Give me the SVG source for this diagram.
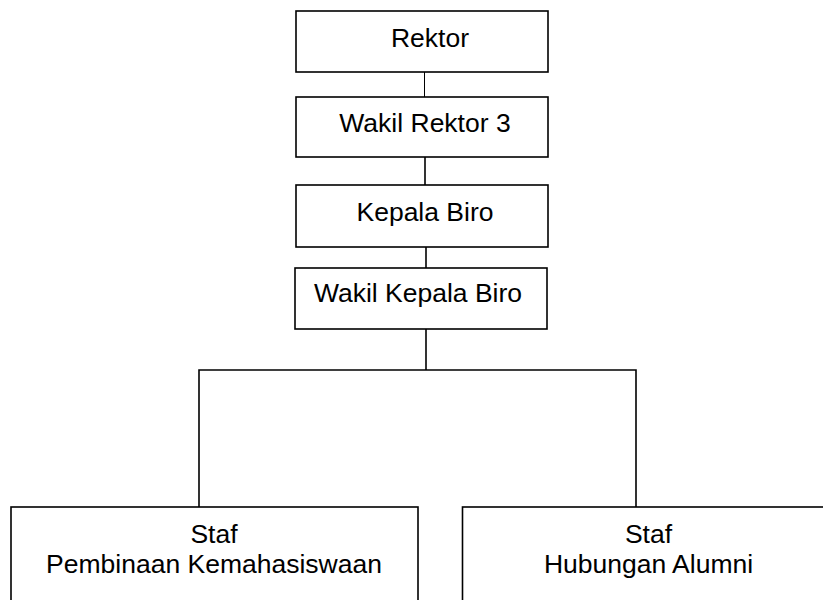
<svg xmlns="http://www.w3.org/2000/svg" width="823" height="600" viewBox="0 0 823 600">
<style>
.box{fill:#fff;stroke:#000;stroke-width:1.6}
.t{font-family:"Liberation Sans",Arial,sans-serif;font-size:26.5px;fill:#000;text-anchor:middle}
.c{stroke:#000;stroke-width:1.6;fill:none}
.thin{stroke:#000;stroke-width:1;fill:none}
</style>
<rect width="823" height="600" fill="#fff"/>
<g id="connectors">
<line class="thin" x1="424.5" y1="70" x2="424.5" y2="97"/>
<line class="c" x1="425" y1="157" x2="425" y2="185"/>
<line class="c" x1="426" y1="247" x2="426" y2="268"/>
<polyline class="c" points="426,329 426,370"/>
<polyline class="c" points="199,507 199,370 636,370 636,507"/>
</g>
<g id="rektor">
<rect class="box" x="296" y="11" width="252" height="61"/>
<text class="t" x="430" y="47">Rektor</text>
</g>
<g id="wakil-rektor-3">
<rect class="box" x="296" y="97" width="252" height="60"/>
<text class="t" x="425" y="132">Wakil Rektor 3</text>
</g>
<g id="kepala-biro">
<rect class="box" x="296" y="185" width="252" height="62"/>
<text class="t" x="425" y="221">Kepala Biro</text>
</g>
<g id="wakil-kepala-biro">
<rect class="box" x="295" y="268" width="252" height="61"/>
<text class="t" x="418" y="302">Wakil Kepala Biro</text>
</g>
<g id="staf-pembinaan">
<rect class="box" x="11" y="507" width="407" height="110"/>
<text class="t" x="214" y="543">Staf</text>
<text class="t" x="214" y="573">Pembinaan Kemahasiswaan</text>
</g>
<g id="staf-hubungan">
<rect class="box" x="462.5" y="507" width="380" height="110"/>
<text class="t" x="648.5" y="543">Staf</text>
<text class="t" x="648.5" y="573">Hubungan Alumni</text>
</g>
</svg>
